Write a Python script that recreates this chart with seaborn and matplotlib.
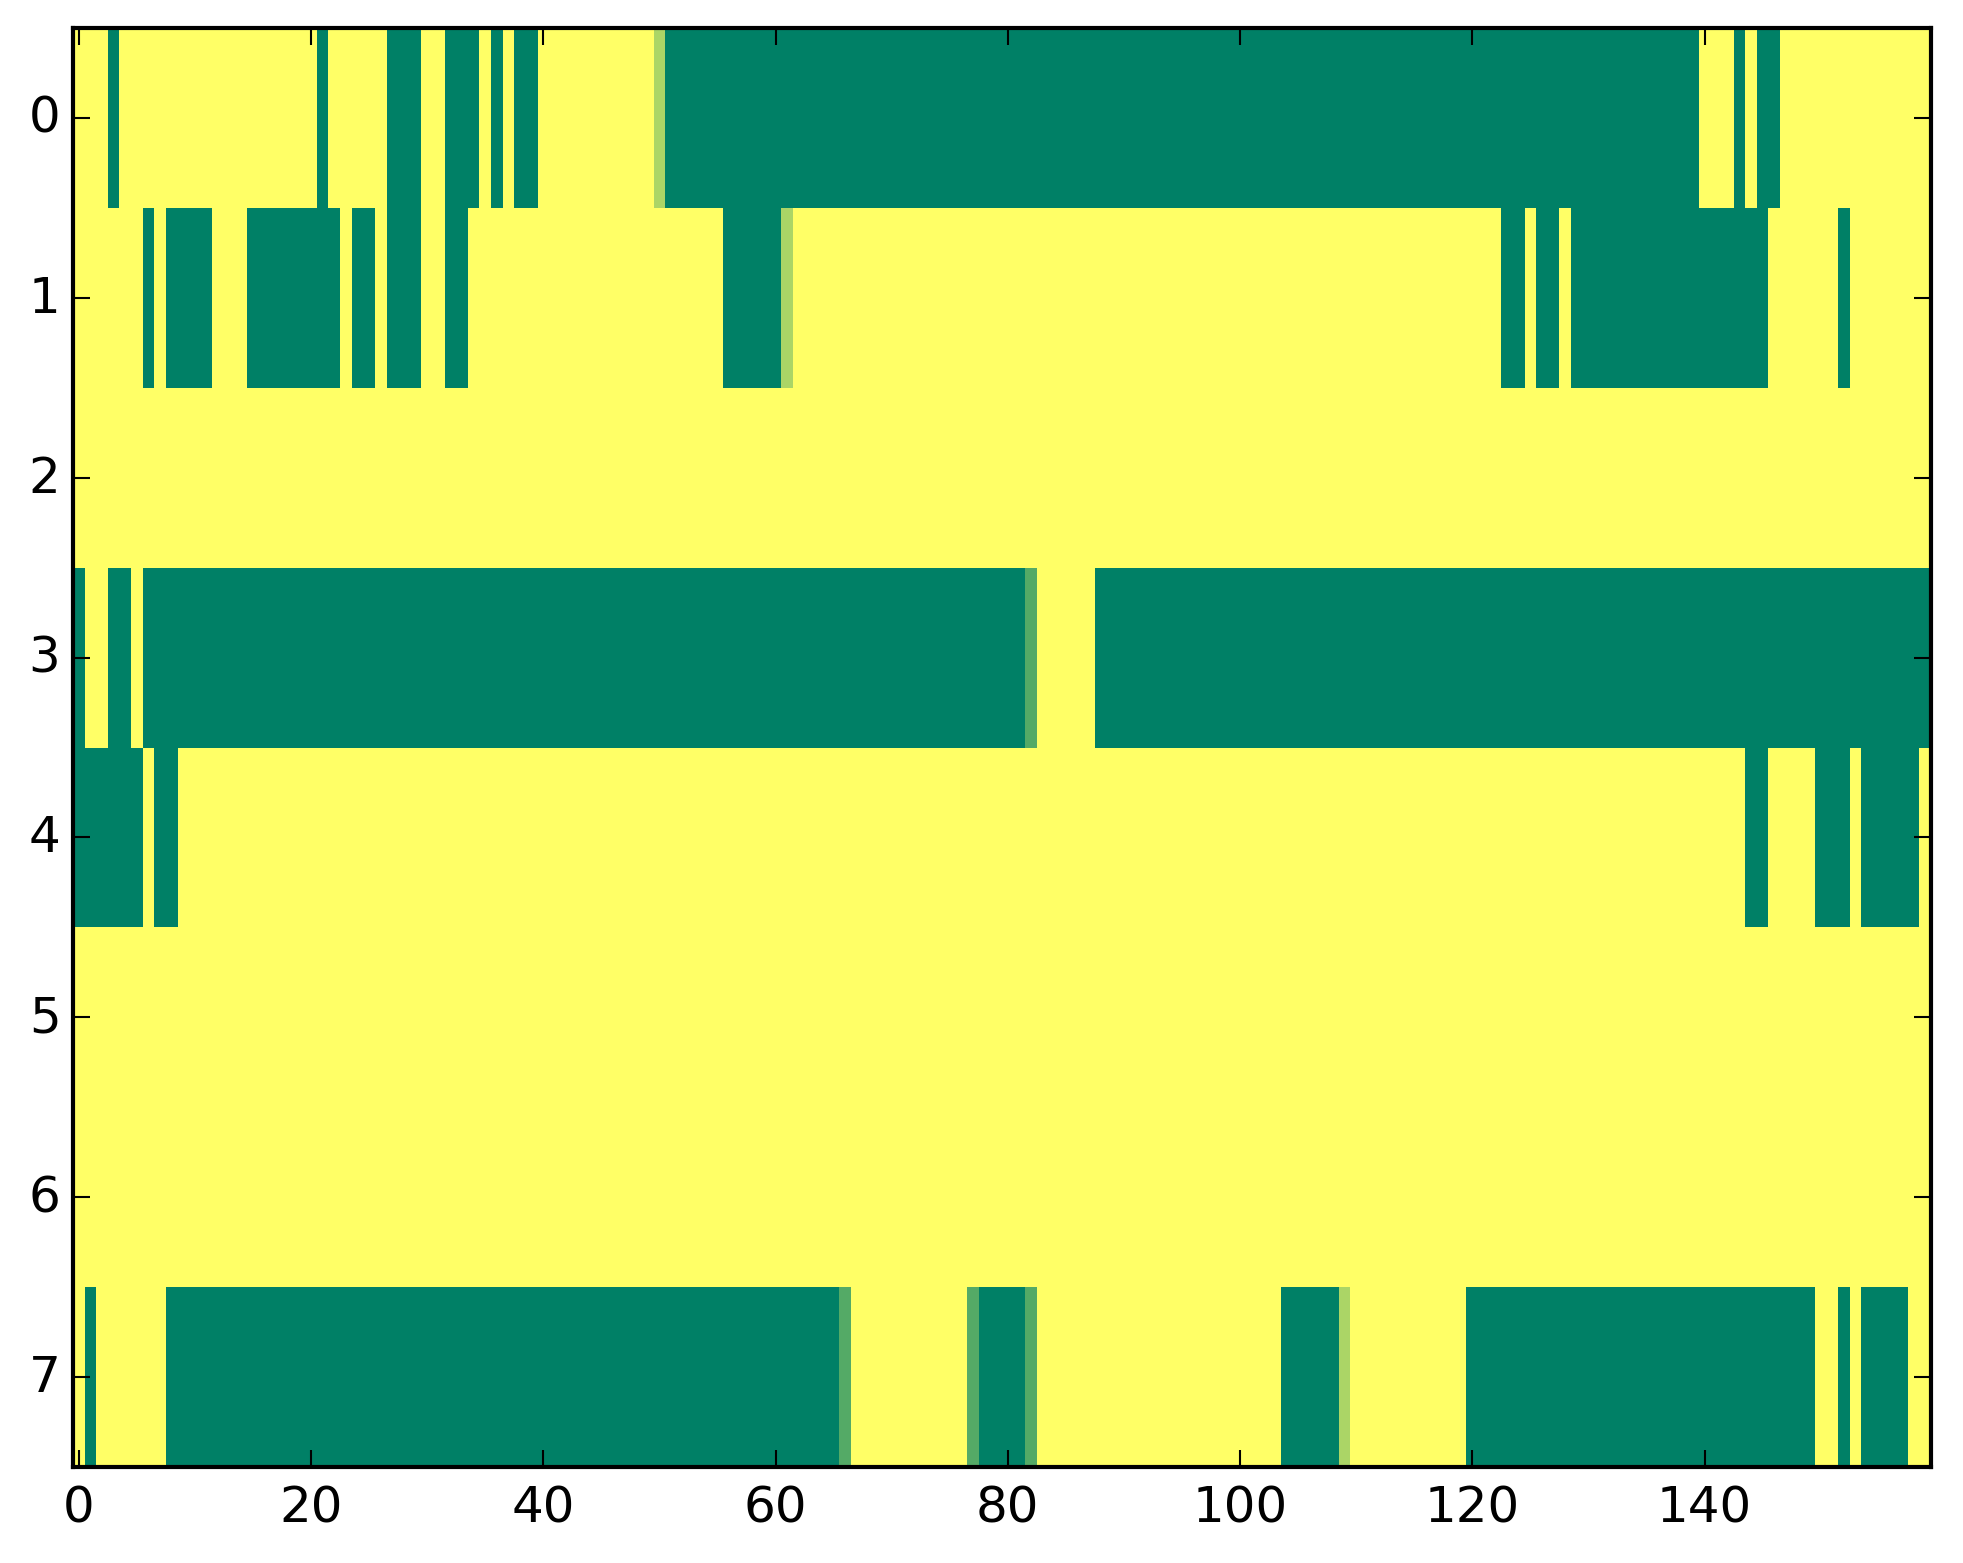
import numpy as np
import matplotlib
matplotlib.use('Agg')
import matplotlib.pyplot as plt
import seaborn as sns

plt.style.use('classic')

# each row of the grid as (value, run length) pairs, 160 columns per row
row0 = [(1, 3), (0, 1), (1, 17), (0, 1), (1, 5), (0, 3), (1, 2), (0, 3), (1, 1), (0, 1),
        (1, 1), (0, 2), (1, 10), (0.67, 1), (0, 89), (1, 3), (0, 1), (1, 1), (0, 2), (1, 13)]
row1 = [(1, 6), (0, 1), (1, 1), (0, 4), (1, 3), (0, 8), (1, 1), (0, 2), (1, 1), (0, 3),
        (1, 2), (0, 2), (1, 22), (0, 5), (0.67, 1), (1, 61), (0, 2), (1, 1), (0, 2), (1, 1),
        (0, 17), (1, 6), (0, 1), (1, 7)]
row2 = [(1, 160)]
row3 = [(0, 1), (1, 2), (0, 2), (1, 1), (0, 76), (0.33, 1), (1, 5), (0, 72)]
row4 = [(0, 6), (1, 1), (0, 2), (1, 135), (0, 2), (1, 4), (0, 3), (1, 1), (0, 5), (1, 1)]
row5 = [(1, 160)]
row6 = [(1, 160)]
row7 = [(1, 1), (0, 1), (1, 6), (0, 58), (0.33, 1), (1, 10), (0.33, 1), (0, 4), (0.33, 1),
        (1, 21), (0, 5), (0.67, 1), (1, 10), (0, 30), (1, 2), (0, 1), (1, 1), (0, 4), (1, 2)]

rows = [row0, row1, row2, row3, row4, row5, row6, row7]
x_ticks = [0, 20, 40, 60, 80, 100, 120, 140]
y_ticks = [0, 1, 2, 3, 4, 5, 6, 7]


def expand(runs):
    vals = [v for v, n in runs]
    counts = [n for v, n in runs]
    return np.repeat(vals, counts)


grid = np.vstack([expand(r) for r in rows])

W, H, DPI = 1963, 1564, 300
fig = plt.figure(figsize=(W / DPI, H / DPI), dpi=DPI, facecolor='white')
ax = fig.add_axes([73 / W, 96 / H, (1931 - 73) / W, (1468 - 29) / H])

sns.heatmap(grid, cmap='summer', vmin=0, vmax=1, cbar=False,
            xticklabels=False, yticklabels=False, ax=ax)

ax.set_xticks(np.array(x_ticks) + 0.5)
ax.set_xticklabels([str(t) for t in x_ticks])
ax.set_yticks(np.array(y_ticks) + 0.5)
ax.set_yticklabels([str(t) for t in y_ticks], rotation=0)

for s in ax.spines.values():
    s.set_visible(True)
    s.set_linewidth(1.0)
    s.set_color('black')

ax.tick_params(which='major', direction='in', top=True, right=True,
               length=4, width=0.5, labelsize=12, pad=4, color='black')
ax.tick_params(axis='x', labeltop=False)
ax.tick_params(axis='y', labelright=False, pad=3)

fig.savefig('out.png', dpi=DPI, facecolor='white')
